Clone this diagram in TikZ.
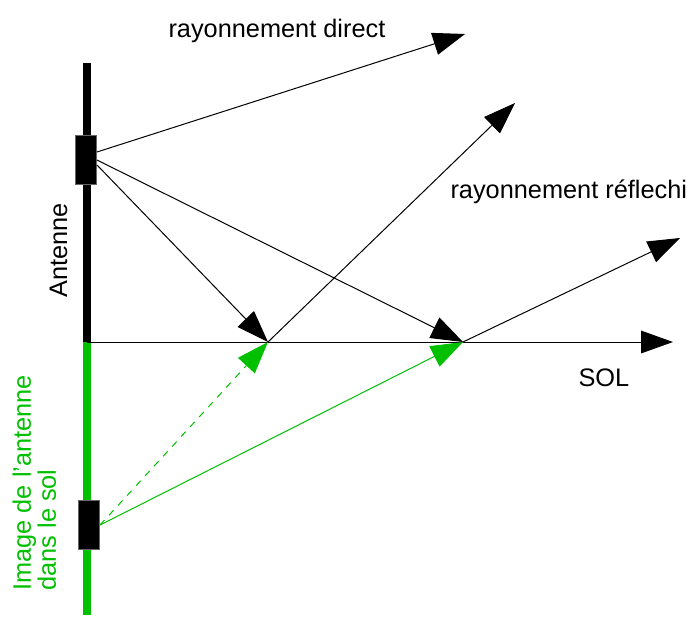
\documentclass[tikz,border=0pt]{standalone}
\usepackage{fontspec}
\setmainfont{Liberation Sans}
\usetikzlibrary{arrows.meta}

\definecolor{solgreen}{RGB}{0,192,0}
\tikzset{every picture/.style={line width=0.75pt}}
\tikzset{
  ray/.style={-{Triangle[length=24pt,width=17pt]}},
  mast/.style={line width=5.5pt},
  dipole/.style={draw=black!60,fill=black,line width=0.5pt,minimum width=16pt,minimum height=37pt,inner sep=0pt},
  lbl/.style={inner sep=0pt,font=\fontsize{19}{17}\selectfont}
}

\begin{document}
\begin{tikzpicture}[x=0.75pt,y=0.75pt,yscale=-1,xscale=1]
\useasboundingbox (0,0) rectangle (691,617);

%Points
\coordinate (top) at (87,63);
\coordinate (g0) at (87,342);
\coordinate (bot) at (87,615);
\coordinate (g1) at (673,342);
\coordinate (r1) at (268,342);
\coordinate (r2) at (463,342);
\coordinate (dir) at (465,34);
\coordinate (e1) at (515,103);
\coordinate (e2) at (680,238);

%Shape: Antenna and its image
\draw [mast] (top) -- (g0) ;
\draw [mast,solgreen] (g0) -- (bot) ;
\node [dipole] (ant) at (86,160) {};
\node [dipole] (img) at (89,525) {};
\path (ant.east) ++(0,-8) coordinate (a1) ;
\path (ant.east) ++(0,5) coordinate (a2) ;

%Straight Lines: ground
\draw [ray] (g0) -- (g1) ;
%Straight Lines: direct ray
\draw [ray] (a1) -- (dir) ;
%Straight Lines: rays towards the ground
\draw [ray] (a2) -- (r1) ;
\draw [ray] (ant.east) -- (r2) ;
%Straight Lines: reflected rays
\draw [ray] (r1) -- (e1) ;
\draw [ray] (r2) -- (e2) ;
%Straight Lines: rays from the image
\draw [ray,solgreen,dash pattern=on 5pt off 5pt] (img.east) -- (r1) ;
\draw [ray,solgreen] (img.east) -- (r2) ;

% Text Node
\node [lbl,anchor=base west] (tdir) at (168,38) {rayonnement direct};
% Text Node
\node [lbl,anchor=base west] (tref) at (450,198) {rayonnement réflechi};
% Text Node
\node [lbl,anchor=base west] (tsol) at (578,386) {SOL};
% Text Node
\node [lbl,anchor=base west,rotate=90] (tant) at (67,298) {Antenne};
% Text Node
\node [lbl,anchor=north west,rotate=90,align=left,text=solgreen] (timg) at (12,591) {Image de l'antenne\\dans le sol};

\end{tikzpicture}
\end{document}
